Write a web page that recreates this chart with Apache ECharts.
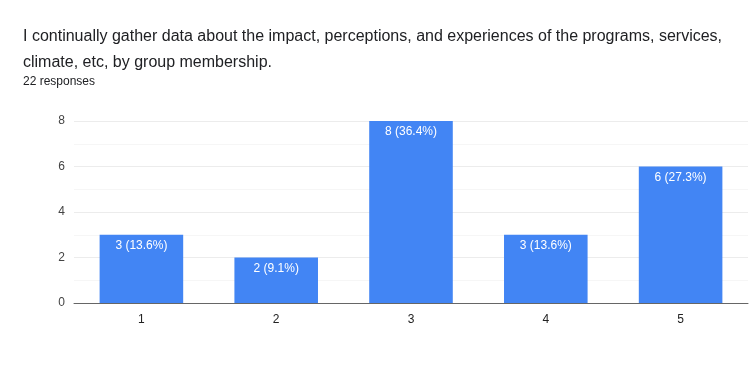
<!DOCTYPE html>
<html><head><meta charset="utf-8">
<script src="https://cdn.jsdelivr.net/npm/echarts@6/dist/echarts.min.js"></script>
<style>html,body{margin:0;padding:0;background:#fff;}#c{width:749px;height:381px;}</style>
</head><body><div id="c"></div>
<script>
const categories = ['1','2','3','4','5'];
const counts = [3, 2, 8, 3, 6];
const percents = ['13.6%', '9.1%', '36.4%', '13.6%', '27.3%'];
const yTicks = [0, 2, 4, 6, 8];
const FONT = '"Liberation Sans", Arial, Helvetica, sans-serif';

const chart = echarts.init(document.getElementById('c'));
chart.setOption({
  animation: false,
  title: [
    { text: 'I continually gather data about the impact, perceptions, and experiences of the programs, services,\nclimate, etc, by group membership.',
      left: 18, top: 19, textStyle: { fontFamily: FONT, fontSize: 16, fontWeight: 'normal', color: '#202124', lineHeight: 26 } },
    { text: '22 responses', left: 18, top: 71, textStyle: { fontFamily: FONT, fontSize: 12, fontWeight: 'normal', color: '#202124' } }
  ],
  grid: { left: 74, right: 1, top: 121, bottom: 78, containLabel: false },
  xAxis: {
    type: 'category', data: categories,
    axisLine: { lineStyle: { color: '#666', width: 1 } },
    axisTick: { show: false },
    axisLabel: { fontFamily: FONT, fontSize: 12, color: '#222', margin: 11 }
  },
  yAxis: {
    type: 'value', min: 0, max: yTicks[yTicks.length-1], interval: 2,
    axisLine: { show: false }, axisTick: { show: false },
    axisLabel: { fontFamily: FONT, fontSize: 12, color: '#444', margin: 9 },
    splitLine: { lineStyle: { color: '#ececec' } },
    minorTick: { show: false, splitNumber: 2 },
    minorSplitLine: { show: true, lineStyle: { color: '#f6f6f6' } }
  },
  series: [{
    type: 'bar', data: counts, barWidth: '62%',
    itemStyle: { color: '#4285f4' },
    label: { show: true, position: 'insideTop', distance: 5, color: '#fff', fontFamily: FONT, fontSize: 12,
      formatter: p => p.value + ' (' + percents[p.dataIndex] + ')' }
  }]
});
</script></body></html>
